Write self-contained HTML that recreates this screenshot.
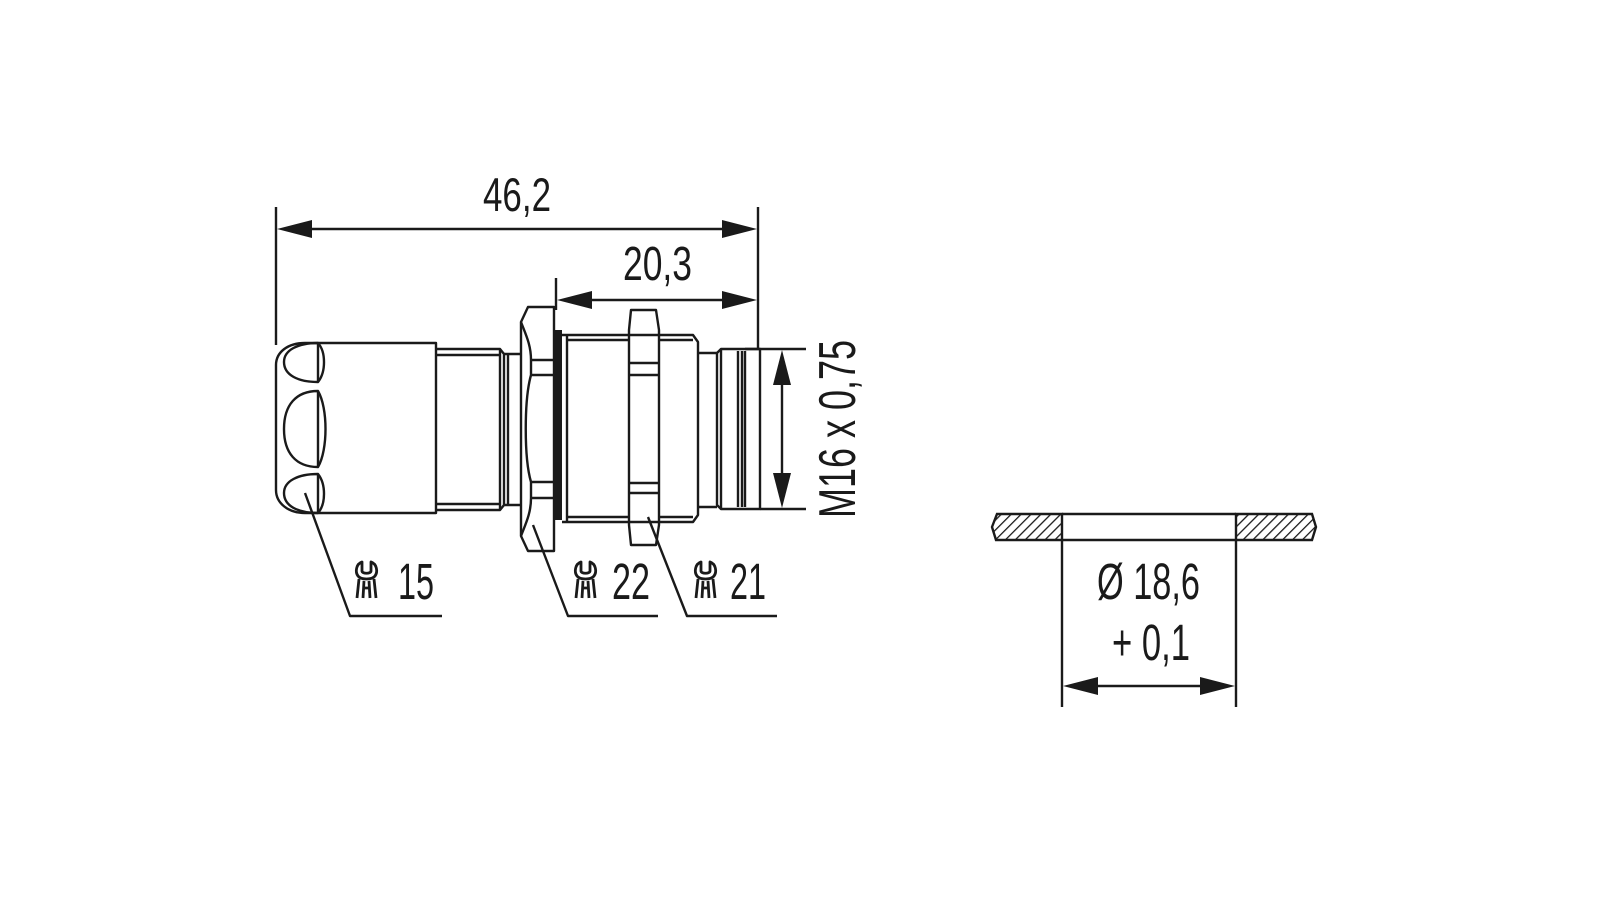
<!DOCTYPE html>
<html><head><meta charset="utf-8">
<style>
html,body{margin:0;padding:0;background:#fff;}
svg{display:block;}
text{font-family:"Liberation Sans",sans-serif;fill:#1a1a1a;}
</style></head>
<body>
<svg width="1600" height="900" viewBox="0 0 1600 900" xmlns="http://www.w3.org/2000/svg">
<defs>
<pattern id="h" patternUnits="userSpaceOnUse" width="7" height="7" patternTransform="rotate(45)">
<line x1="0" y1="0" x2="0" y2="7" stroke="#1a1a1a" stroke-width="2.6"/>
</pattern>
</defs>
<g fill="none" stroke="#1a1a1a" stroke-width="2.4" stroke-linejoin="round">
<!-- cap -->
<path d="M305,343 L436,343 L436,513 L305,513 C288,513 276,503 276,490 L276,365 C276,352 288,343 305,343 Z"/>
<path d="M318,343 L318,382 M318,391 L318,467 M318,474 L318,513"/>
<path d="M318,343 C298,343 284,350 284,362 C284,375 298,382 318,382 C326,372 326,352 318,343 Z"/>
<path d="M318,391 C296,391 284,405 284,429 C284,453 296,467 318,467 C328,450 328,408 318,391 Z"/>
<path d="M318,474 C298,474 284,481 284,493 C284,506 298,513 318,513 C326,504 326,484 318,474 Z"/>
<!-- neck -->
<path d="M436,349 L500,349 L504,354 L504,505 L500,510 L436,510"/>
<path d="M436,355 L500,355 M436,504 L500,504 M500,349 L500,510"/>
<path d="M504,354 L521,354 M504,505 L521,505 M508,354 L508,505"/>
<!-- nut1 -->
<path d="M528,307 L554,307 L554,551 L528,551 L521,536 L521,322 Z"/>
<path d="M531,360 L554,360 M531,375 L554,375 M531,482 L554,482 M531,498 L554,498"/>
<path d="M521,322 C526,335 531,345 531,360 L531,375 C524,400 524,458 531,482 L531,498 C531,513 526,523 521,536"/>
</g>
<rect x="554" y="330" width="8" height="190" fill="#1a1a1a"/>
<g fill="none" stroke="#1a1a1a" stroke-width="2.4" stroke-linejoin="round">
<!-- body -->
<path d="M562,335 L693,335 L698,342 L698,515 L693,522 L562,522"/>
<path d="M567,335 L567,522 M567,340 L629,340 M658,340 L693,340 M567,517 L629,517 M658,517 L693,517"/>
<!-- nut2 -->
<path d="M631,310 L656,310 L659,330 L659,525 L656,545 L631,545 L629,525 L629,330 Z"/>
<path d="M629,363 L659,363 M629,375 L659,375 M629,483 L659,483 M629,493 L659,493"/>
<!-- neck2 & thread -->
<path d="M698,353 L717,353 M698,507 L717,507"/>
<path d="M721,349 L760,349 L760,509 L721,509 L717,505 L717,353 Z"/>
<path d="M721,349 L721,509 M738,351 L738,507 M742,351 L742,507 M745,351 L745,507"/>
<!-- dimension 46,2 -->
<path d="M276,207 L276,345 M758,207 L758,349"/>
<path d="M290,229 L744,229"/>
<!-- 20,3 -->
<path d="M556,278 L556,310"/>
<path d="M570,300 L744,300"/>
<!-- M16 -->
<path d="M745,349 L806,349 M760,509 L806,509 M782,365 L782,493"/>
<!-- leaders -->
<path d="M305,493 L350,616 L442,616"/>
<path d="M533,525 L568,616 L658,616"/>
<path d="M648,517 L687,616 L777,616"/>
<!-- right plate -->
<path d="M1062,540 L1062,707 M1236,540 L1236,707"/>
<path d="M1076,686 L1222,686"/>
</g>
<g fill="#1a1a1a">
<polygon points="277,229 312,220 312,238"/>
<polygon points="757,229 722,220 722,238"/>
<polygon points="557,300 592,291 592,309"/>
<polygon points="757,300 722,291 722,309"/>
<polygon points="782,350 773,385 791,385"/>
<polygon points="782,508 773,473 791,473"/>
<polygon points="1063,686 1098,677 1098,695"/>
<polygon points="1235,686 1200,677 1200,695"/>
</g>
<!-- plate -->
<path d="M997,514 L1062,514 L1062,540 L996,540 L992,527 Z" fill="url(#h)" stroke="#1a1a1a" stroke-width="2.4"/>
<path d="M1236,514 L1312,514 L1316,527 L1312,540 L1236,540 Z" fill="url(#h)" stroke="#1a1a1a" stroke-width="2.4"/>
<path d="M1062,514 L1236,514 M1062,540 L1236,540" stroke="#1a1a1a" stroke-width="2.4"/>
<!-- wrenches -->
<g fill="none" stroke="#1a1a1a" stroke-width="2.8" stroke-linejoin="round">
<g transform="translate(355,562)">
<path d="M7,0 C1,2 0,10 3,14 C6,18 17,18 20,14 C23,10 22,2 16,0 L16,9 C16,12 7,12 7,9 Z"/>
<path d="M4,17 L2,36 M9,19 L8,36 M14,19 L15,36 M19,17 L21,36 M8,26 L15,26"/>
</g>
<g transform="translate(574,562)">
<path d="M7,0 C1,2 0,10 3,14 C6,18 17,18 20,14 C23,10 22,2 16,0 L16,9 C16,12 7,12 7,9 Z"/>
<path d="M4,17 L2,36 M9,19 L8,36 M14,19 L15,36 M19,17 L21,36 M8,26 L15,26"/>
</g>
<g transform="translate(694,562)">
<path d="M7,0 C1,2 0,10 3,14 C6,18 17,18 20,14 C23,10 22,2 16,0 L16,9 C16,12 7,12 7,9 Z"/>
<path d="M4,17 L2,36 M9,19 L8,36 M14,19 L15,36 M19,17 L21,36 M8,26 L15,26"/>
</g>
</g>
<!-- texts -->
<text x="483" y="211" font-size="47" textLength="68" lengthAdjust="spacingAndGlyphs">46,2</text>
<text x="623" y="280" font-size="48" textLength="69" lengthAdjust="spacingAndGlyphs">20,3</text>
<text transform="translate(855,518) rotate(-90)" font-size="52" textLength="178" lengthAdjust="spacingAndGlyphs">M16 x 0,75</text>
<text x="398" y="599" font-size="51" textLength="36" lengthAdjust="spacingAndGlyphs">15</text>
<text x="612" y="599" font-size="51" textLength="38" lengthAdjust="spacingAndGlyphs">22</text>
<text x="730" y="599" font-size="51" textLength="36" lengthAdjust="spacingAndGlyphs">21</text>
<text x="1097" y="599" font-size="51" textLength="103" lengthAdjust="spacingAndGlyphs">Ø 18,6</text>
<text x="1112" y="660" font-size="51" textLength="78" lengthAdjust="spacingAndGlyphs">+ 0,1</text>
</svg>
</body></html>
